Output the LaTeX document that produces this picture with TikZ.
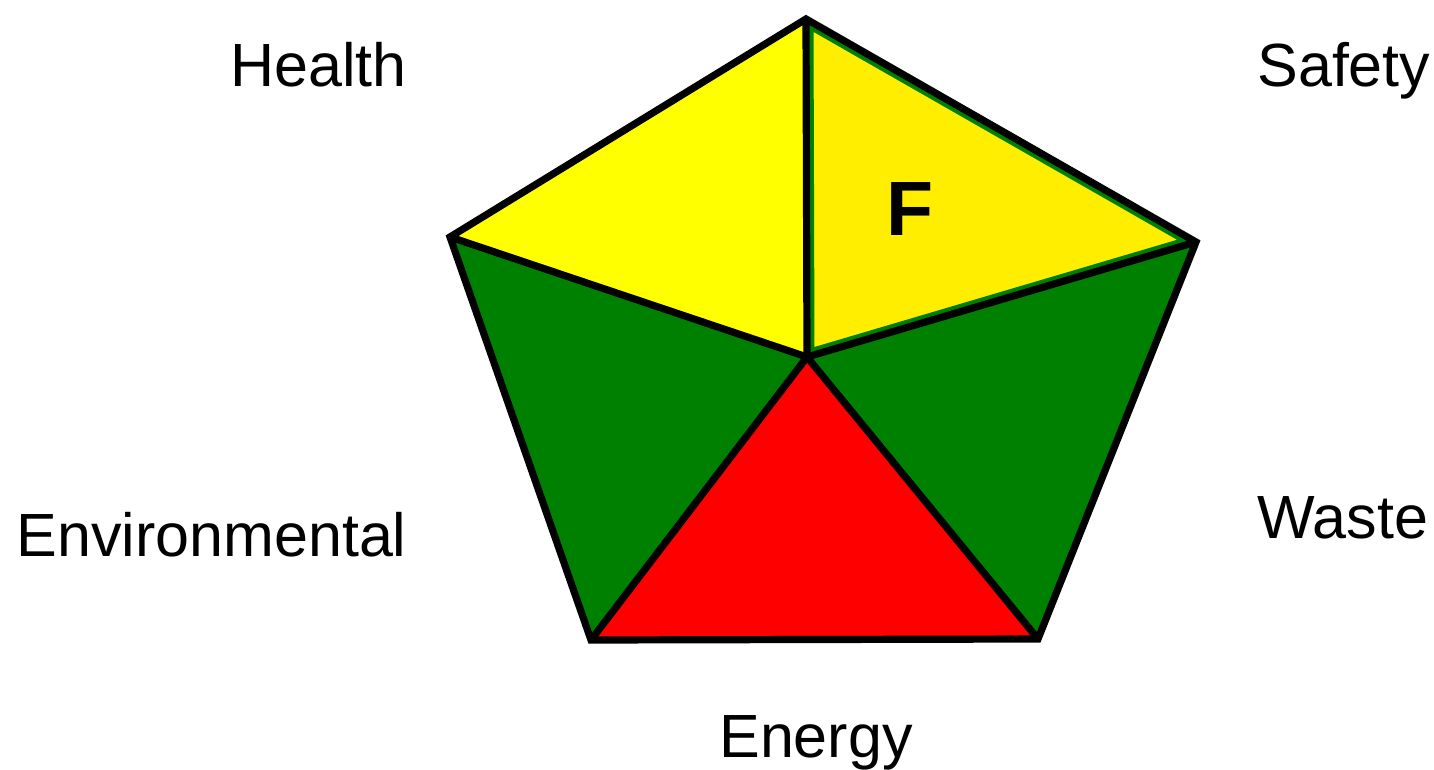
\documentclass[tikz,border=0pt]{standalone}
\usepackage{fontspec}
\setmainfont{Liberation Sans}
\definecolor{ylw}{HTML}{FFFF00}
\definecolor{ylw2}{HTML}{FFEE00}
\definecolor{grn}{HTML}{008000}
\definecolor{rd}{HTML}{FF0000}
\begin{document}
\begin{tikzpicture}[x=0.5pt,y=-0.5pt,
  lbl/.style={font=\fontsize{30.5}{36}\selectfont, inner sep=0pt},
  edge/.style={draw=black, line width=3.6pt, line join=miter}]
\useasboundingbox (0,0) rectangle (1434,770);
\coordinate (T) at (806,19);
\coordinate (L) at (450,237);
\coordinate (R) at (1196,242);
\coordinate (BL) at (591,640);
\coordinate (BR) at (1038,639);
\coordinate (C) at (807,357);
% fills
\fill[ylw] (T) -- (L) -- (C) -- cycle;
\fill[grn] (L) -- (BL) -- (C) -- cycle;
\fill[grn] (R) -- (BR) -- (C) -- cycle;
\fill[rd] (BL) -- (BR) -- (C) -- cycle;
\begin{scope}
  \clip (T) -- (R) -- (C) -- cycle;
  \fill[ylw2] (T) -- (R) -- (C) -- cycle;
  \draw[grn, line width=7.5pt] (T) -- (R) -- (C) -- cycle;
\end{scope}
% outline and spokes
\draw[edge] (T) -- (R) -- (BR) -- (BL) -- (L) -- cycle;
\draw[edge] (T) -- (C);
\draw[edge] (L) -- (C);
\draw[edge] (R) -- (C);
\draw[edge] (BL) -- (C) -- (BR);
% labels
\node[lbl, anchor=base east] (health) at (407,87) {Health};
\node[lbl, anchor=base west] (safety) at (1257,87) {Safety};
\node[lbl, anchor=base east] (env) at (407,556) {Environmental};
\node[lbl, anchor=base west] (waste) at (1257,538) {Waste};
\node[lbl, anchor=base] (energy) at (816,757) {Energy};
\node[inner sep=0pt, anchor=base, font=\fontsize{38.5}{44}\selectfont\bfseries] (f) at (910,235) {F};
\end{tikzpicture}
\end{document}
